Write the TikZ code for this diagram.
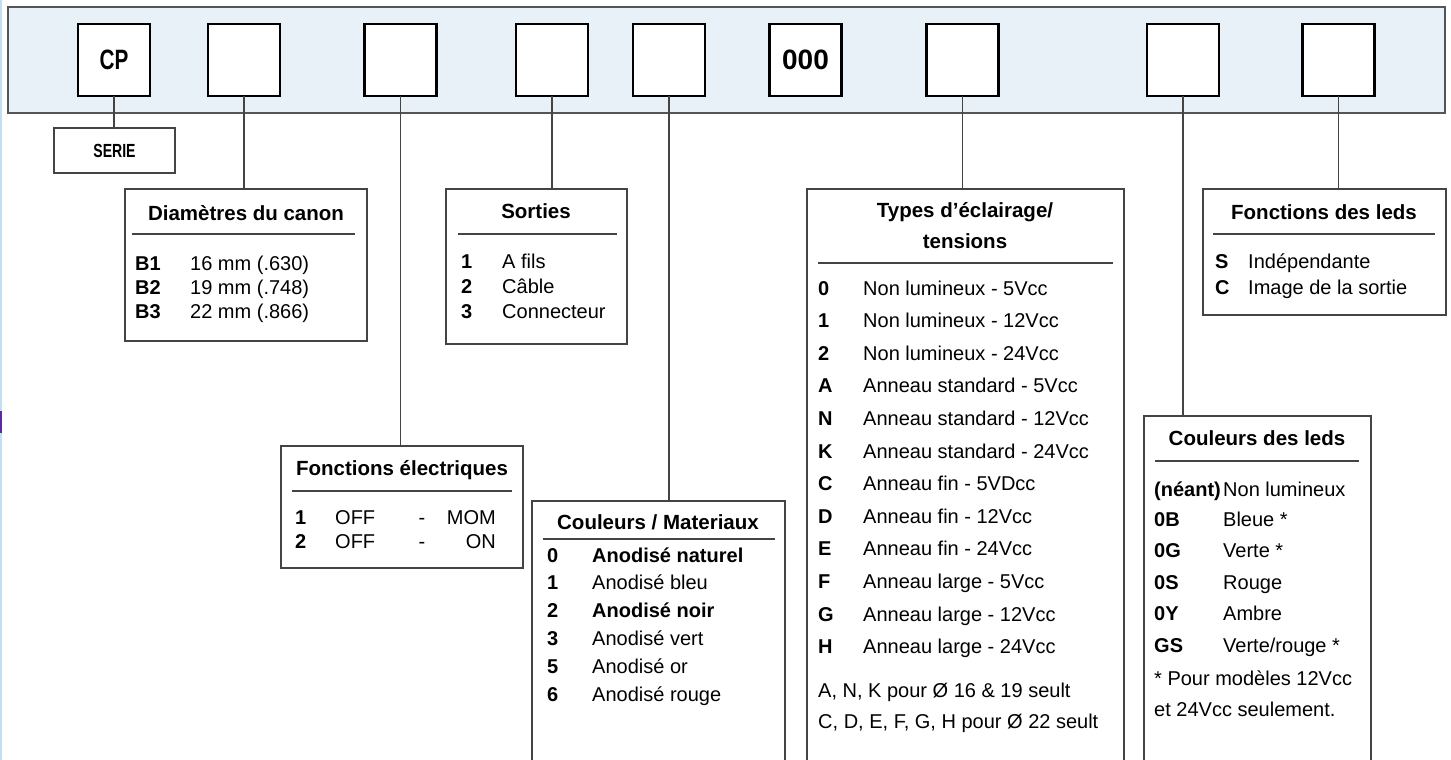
\documentclass[tikz,border=0pt]{standalone}
\usepackage{fontspec}
\setmainfont{Liberation Sans}
\newfontfamily\condfont[FakeStretch=0.74]{Liberation Sans}
\definecolor{barfill}{HTML}{E9F1F8}
\definecolor{barline}{HTML}{555555}
\definecolor{boxline}{HTML}{444444}
\definecolor{connline}{HTML}{444444}
\definecolor{edgeblue}{HTML}{BFE0F0}
\definecolor{edgepurple}{HTML}{5A2A9E}
\begin{document}
\begin{tikzpicture}[x=1pt,y=-1pt,
  bar/.style={draw=barline, fill=barfill, line width=1.3pt, inner sep=0, outer sep=0},
  slot/.style={draw=black, fill=white, line width=2.6pt, minimum width=72pt, minimum height=72pt, inner sep=0, outer sep=0, font=\fontsize{28}{32}\selectfont\bfseries},
  infobox/.style={draw=boxline, fill=white, line width=1.2pt, inner sep=0, outer sep=0, anchor=north west},
  conn/.style={draw=connline, line width=1.2pt},
  rulel/.style={draw=boxline, line width=1.2pt},
  ttl/.style={font=\fontsize{20.5}{25}\selectfont\bfseries, inner sep=0, anchor=base},
  code/.style={font=\fontsize{20}{24}\selectfont\bfseries, anchor=base west, inner sep=0},
  txt/.style={font=\fontsize{20}{24}\selectfont, anchor=base west, inner sep=0},
  txtr/.style={font=\fontsize{20}{24}\selectfont, anchor=base east, inner sep=0},
  txtc/.style={font=\fontsize{20}{24}\selectfont, anchor=base, inner sep=0}]
\useasboundingbox (0,0) rectangle (1451,760);
\clip (0,0) rectangle (1451,760);
\fill[white] (0,0) rectangle (1451,760);
\draw[edgeblue, line width=1.6pt] (0.8,0) -- (0.8,760);
\draw[edgepurple, line width=2.4pt] (1.2,411) -- (1.2,433);

% top bar
\node[bar, anchor=north west, minimum width=1437pt, minimum height=106pt] (bar) at (8,7) {};

% slot positions
\path (114,60) coordinate (p1) (244,60) coordinate (p2) (400.5,60) coordinate (p3)
      (552,60) coordinate (p4) (669,60) coordinate (p5) (805.5,60) coordinate (p6)
      (962.5,60) coordinate (p7) (1183,60) coordinate (p8) (1338.5,60) coordinate (p9);

% info boxes
\node[infobox, minimum width=121pt, minimum height=45pt] (serie) at (54,128) {};
\node[font=\condfont\fontsize{19}{22}\selectfont\bfseries, inner sep=0] (serietxt) at (serie.center) {SERIE};
\node[infobox, minimum width=242pt, minimum height=152pt] (dia) at (125,189) {};
\node[infobox, minimum width=181pt, minimum height=155pt] (sor) at (446,189) {};
\node[infobox, minimum width=242pt, minimum height=122pt] (fel) at (281,446) {};
\node[infobox, minimum width=253pt, minimum height=280pt] (cma) at (532,501) {};
\node[infobox, minimum width=317pt, minimum height=590pt] (typ) at (807,189) {};
\node[infobox, minimum width=227pt, minimum height=360pt] (cled) at (1144,416) {};
\node[infobox, minimum width=243pt, minimum height=126pt] (fled) at (1203,189) {};

% slots
\node[slot, font=\condfont\fontsize{28}{32}\selectfont\bfseries] (s1) at (p1) {CP};
\node[slot] (s2) at (p2) {};
\node[slot] (s3) at (p3) {};
\node[slot] (s4) at (p4) {};
\node[slot] (s5) at (p5) {};
\node[slot] (s6) at (p6) {000};
\node[slot] (s7) at (p7) {};
\node[slot] (s8) at (p8) {};
\node[slot] (s9) at (p9) {};

% connectors
\draw[conn] (s1.south) -- (s1.south |- serie.north);
\draw[conn] (s2.south) -- (s2.south |- dia.north);
\draw[conn] (s3.south) -- (s3.south |- fel.north);
\draw[conn] (s4.south) -- (s4.south |- sor.north);
\draw[conn] (s5.south) -- (s5.south |- cma.north);
\draw[conn] (s7.south) -- (s7.south |- typ.north);
\draw[conn] (s8.south) -- (s8.south |- cled.north);
\draw[conn] (s9.south) -- (s9.south |- fled.north);

% Diametres du canon
\node[ttl] (diat) at (246,220.5) {Diamètres du canon};
\draw[rulel] (132,234) -- (355,234);
\node[code] (diac1) at (135,270) {B1}; \node[txt] (diat1) at (190,270) {16 mm (.630)};
\node[code] (diac2) at (135,294) {B2}; \node[txt] (diat2) at (190,294) {19 mm (.748)};
\node[code] (diac3) at (135,318) {B3}; \node[txt] (diat3) at (190,318) {22 mm (.866)};

% Sorties
\node[ttl] (sort) at (536,218.5) {Sorties};
\draw[rulel] (458,234) -- (617,234);
\node[code] (sorc1) at (461,268) {1}; \node[txt] (sort1) at (502,268) {A fils};
\node[code] (sorc2) at (461,293) {2}; \node[txt] (sort2) at (502,293) {Câble};
\node[code] (sorc3) at (461,318) {3}; \node[txt] (sort3) at (502,318) {Connecteur};

% Fonctions electriques
\node[ttl] (felt) at (402,475.5) {Fonctions électriques};
\draw[rulel] (292,491) -- (512,491);
\node[code] (felc1) at (295,524) {1}; \node[txt] (felo1) at (335,524) {OFF};
\node[txtc] (feld1) at (422,524) {-}; \node[txtr] (felm1) at (496,524) {MOM};
\node[code] (felc2) at (295,548) {2}; \node[txt] (felo2) at (335,548) {OFF};
\node[txtc] (feld2) at (422,548) {-}; \node[txtr] (felm2) at (496,548) {ON};

% Couleurs / Materiaux
\node[ttl] (cmat) at (658,529) {Couleurs / Materiaux};
\draw[rulel] (543,539) -- (775,539);
\foreach \c/\t [count=\i from 0] in {0/{\bfseries Anodisé naturel},1/Anodisé bleu,2/{\bfseries Anodisé noir},3/Anodisé vert,5/Anodisé or,6/Anodisé rouge}{
  \node[code] (cmac\i) at (547,562+27.8*\i) {\c};
  \node[txt] (cmatx\i) at (592,562+27.8*\i) {\t};
}

% Types d'eclairage / tensions
\node[ttl] (typt1) at (965,217.5) {Types d’éclairage/};
\node[ttl] (typt2) at (965,248) {tensions};
\draw[rulel] (818,263) -- (1113,263);
\foreach \c/\t [count=\i from 0] in {0/Non lumineux - 5Vcc,1/Non lumineux - 12Vcc,2/Non lumineux - 24Vcc,A/Anneau standard - 5Vcc,N/Anneau standard - 12Vcc,K/Anneau standard - 24Vcc,C/Anneau fin - 5VDcc,D/Anneau fin - 12Vcc,E/Anneau fin - 24Vcc,F/Anneau large - 5Vcc,G/Anneau large - 12Vcc,H/Anneau large - 24Vcc}{
  \node[code] (typc\i) at (818,295+32.6*\i) {\c};
  \node[txt] (typtx\i) at (863,295+32.6*\i) {\t};
}
\node[txt] (typn1) at (818,697) {A, N, K pour Ø 16 \& 19 seult};
\node[txt] (typn2) at (818,728) {C, D, E, F, G, H pour Ø 22 seult};

% Couleurs des leds
\node[ttl] (cledt) at (1257,445.5) {Couleurs des leds};
\draw[rulel] (1155,461) -- (1359,461);
\node[code] (cledc0) at (1154,496) {(néant)}; \node[txt] (cledt0) at (1223,496) {Non lumineux};
\node[code] (cledc1) at (1154,526) {0B}; \node[txt] (cledt1) at (1223,526) {Bleue *};
\node[code] (cledc2) at (1154,557) {0G}; \node[txt] (cledt2) at (1223,557) {Verte *};
\node[code] (cledc3) at (1154,589) {0S}; \node[txt] (cledt3) at (1223,589) {Rouge};
\node[code] (cledc4) at (1154,620) {0Y}; \node[txt] (cledt4) at (1223,620) {Ambre};
\node[code] (cledc5) at (1154,652) {GS}; \node[txt] (cledt5) at (1223,652) {Verte/rouge *};
\node[txt] (cledn1) at (1154,685) {* Pour modèles 12Vcc};
\node[txt] (cledn2) at (1154,716) {et 24Vcc seulement.};

% Fonctions des leds
\node[ttl] (fledt) at (1324,219.5) {Fonctions des leds};
\draw[rulel] (1213,234) -- (1435,234);
\node[code] (fledc1) at (1215,268) {S}; \node[txt] (fledt1) at (1248,268) {Indépendante};
\node[code] (fledc2) at (1215,294) {C}; \node[txt] (fledt2) at (1248,294) {Image de la sortie};
\end{tikzpicture}
\end{document}
